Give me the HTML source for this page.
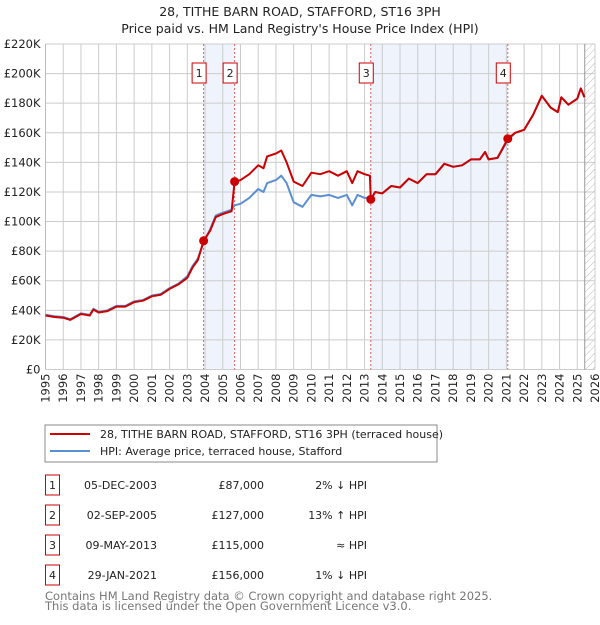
<!DOCTYPE html>
<html><head><meta charset="utf-8"><style>
body{margin:0;background:#fff;font-family:"Liberation Sans","DejaVu Sans",sans-serif;}
svg text{font-family:"DejaVu Sans","Liberation Sans",sans-serif;}
</style></head><body>
<svg id="c" width="600" height="620" viewBox="0 0 600 620" xmlns="http://www.w3.org/2000/svg">
<text x="300" y="16" text-anchor="middle" font-size="12.5" fill="#222">28, TITHE BARN ROAD, STAFFORD, ST16 3PH</text>
<text x="300" y="33" text-anchor="middle" font-size="12.5" fill="#222">Price paid vs. HM Land Registry's House Price Index (HPI)</text>
<g id="plot"></g>
<rect x="45" y="425" width="392" height="37" fill="#fff" stroke="#888"/>
<line x1="50" y1="434" x2="90" y2="434" stroke="#cc0000" stroke-width="2"/>
<text x="100" y="438" font-size="11" fill="#222">28, TITHE BARN ROAD, STAFFORD, ST16 3PH (terraced house)</text>
<line x1="50" y1="451" x2="90" y2="451" stroke="#5b8fd4" stroke-width="2"/>
<text x="100" y="455" font-size="11" fill="#222">HPI: Average price, terraced house, Stafford</text>
<g id="table" font-size="11" fill="#222"></g>
<text x="45" y="600" font-size="11.5" fill="#777">Contains HM Land Registry data © Crown copyright and database right 2025.</text>
<text x="45" y="610" font-size="11.5" fill="#777">This data is licensed under the Open Government Licence v3.0.</text>
</svg>
<script>
const years=[1995,1995.5,1996,1996.4,1997,1997.5,1997.7,1998,1998.5,1999,1999.5,2000,2000.5,2001,2001.5,2002,2002.5,2003,2003.3,2003.6,2003.92,2004.3,2004.6,2005,2005.5,2005.67,2006,2006.5,2007,2007.3,2007.5,2008,2008.3,2008.6,2009,2009.5,2010,2010.5,2011,2011.5,2012,2012.3,2012.6,2013,2013.3,2013.35,2013.6,2014,2014.5,2015,2015.5,2016,2016.5,2017,2017.5,2018,2018.5,2019,2019.5,2019.8,2020,2020.5,2021.08,2021.5,2022,2022.5,2023,2023.5,2023.9,2024.1,2024.5,2025,2025.2,2025.4];
const hpiValues=[37,36,35.5,34,38,37,41,39,40,43,43,46,47,50,51,55,58,63,70,75,86,95,104,106,108,111,112,116,122,120,126,128,131,126,113,110,118,117,118,116,118,111,118,116,116,115,120,119,124,123,129,126,132,132,139,137,138,142,142,147,142,143,155,160,162,172,185,177,174,184,179,183,190,184];
const priceValues=[36.5,35.5,35,33.5,37.5,36.5,40.5,38.5,39.5,42.5,42.5,45.5,46.5,49.5,50.5,54.5,57.5,62,69,74,87,94,103,105,107,127,128,132,138,136,144,146,148,140,127,124,133,132,134,131,134,126,134,132,131,115,120,119,124,123,129,126,132,132,139,137,138,142,142,147,142,143,156,160,162,172,185,177,174,184,179,183,190,184];
const sales=[2003.92,2005.67,2013.35,2021.08];
const salePrices=[87,127,115,156];
const saleLabels=["1","2","3","4"];
const saleDates=["05-DEC-2003","02-SEP-2005","09-MAY-2013","29-JAN-2021"];
const salePriceText=["£87,000","£127,000","£115,000","£156,000"];
const saleHpiText=["2% ↓ HPI","13% ↑ HPI","≈ HPI","1% ↓ HPI"];
const yTicks=[0,20,40,60,80,100,120,140,160,180,200,220];
const NS="http://www.w3.org/2000/svg";
const X0=45.5,X1=595,Y0=369.5,Y1=44;
const xs=y=>X0+(y-1995)/(2026-1995)*(X1-X0);
const ys=v=>Y0-v/220*(Y0-Y1);
const plot=document.getElementById('plot');
function mk(tag,attrs,parent){const e=document.createElementNS(NS,tag);for(const k in attrs)e.setAttribute(k,attrs[k]);(parent||plot).appendChild(e);return e;}
[[0,1],[2,3]].forEach(p=>{const r=mk('rect',{x:xs(sales[p[0]]),y:Y1,width:xs(sales[p[1]])-xs(sales[p[0]]),height:Y0-Y1,fill:'#eef3fc'});

});
for(let y=1995;y<=2026;y++){mk('line',{x1:xs(y),x2:xs(y),y1:Y1,y2:Y0,stroke:'#cccccc','stroke-width':1});
const t=mk('text',{x:0,y:0,transform:`translate(${xs(y)+4},${Y0+4}) rotate(-90)`,'text-anchor':'end','font-size':11.5,fill:'#222'});t.textContent=y;

}
yTicks.forEach(v=>{mk('line',{x1:X0,x2:X1,y1:ys(v),y2:ys(v),stroke:'#cccccc','stroke-width':1});
const t=mk('text',{x:X0-5,y:ys(v)+4,'text-anchor':'end','font-size':11.5,fill:'#222'});t.textContent=v===0?'£0':'£'+v+'K';

});
const pat=mk('pattern',{id:'h',width:5,height:5,patternUnits:'userSpaceOnUse',patternTransform:'rotate(45)'});
mk('line',{x1:0,y1:0,x2:0,y2:5,stroke:'#bbb','stroke-width':1},pat);
mk('rect',{x:xs(2025.42),y:Y1,width:X1-xs(2025.42),height:Y0-Y1,fill:'url(#h)'});
mk('line',{x1:xs(2025.42),x2:xs(2025.42),y1:Y1,y2:Y0,stroke:'#999','stroke-width':1});
mk('line',{x1:X0,x2:X0,y1:Y1,y2:Y0,stroke:'#bbb'});
sales.forEach((s,i)=>{mk('line',{x1:xs(s),x2:xs(s),y1:Y1,y2:Y0,stroke:'#e06060','stroke-dasharray':'2,2','stroke-width':1});
const g=mk('g',{});
mk('rect',{x:xs(s)-11.5,y:63,width:14,height:20,fill:'#fff',stroke:'#cc0000'},g);
const t=mk('text',{x:xs(s)-4.5,y:77,'text-anchor':'middle','font-size':11,fill:'#222'},g);t.textContent=saleLabels[i];});
function line(vals,col,name){const d=years.map((y,i)=>(i?'L':'M')+xs(y).toFixed(1)+','+ys(vals[i]).toFixed(1)).join('');
const p=mk('path',{d:d,fill:'none',stroke:col,'stroke-width':2,'stroke-linejoin':'round'});

}
line(hpiValues,'#5b8fd4','hpi-line');
line(priceValues,'#cc0000','price-paid-line');
sales.forEach((s,i)=>{const c=mk('circle',{cx:xs(s),cy:ys(salePrices[i]),r:4.5,fill:'#cc0000'});

});
const tb=document.getElementById('table');
sales.forEach((s,i)=>{const y=483+i*30;
const g=mk('g',{},tb);
mk('rect',{x:45.5,y:y-8,width:14,height:20,fill:'#fff',stroke:'#cc0000'},g);
const a=mk('text',{x:52.5,y:y+6,'text-anchor':'middle'},g);a.textContent=saleLabels[i];
const b=mk('text',{x:157,y:y+6,'text-anchor':'end'},g);b.textContent=saleDates[i];
const c=mk('text',{x:264,y:y+6,'text-anchor':'end'},g);c.textContent=salePriceText[i];
const d=mk('text',{x:367,y:y+6,'text-anchor':'end'},g);d.textContent=saleHpiText[i];});
</script>
</body></html>
